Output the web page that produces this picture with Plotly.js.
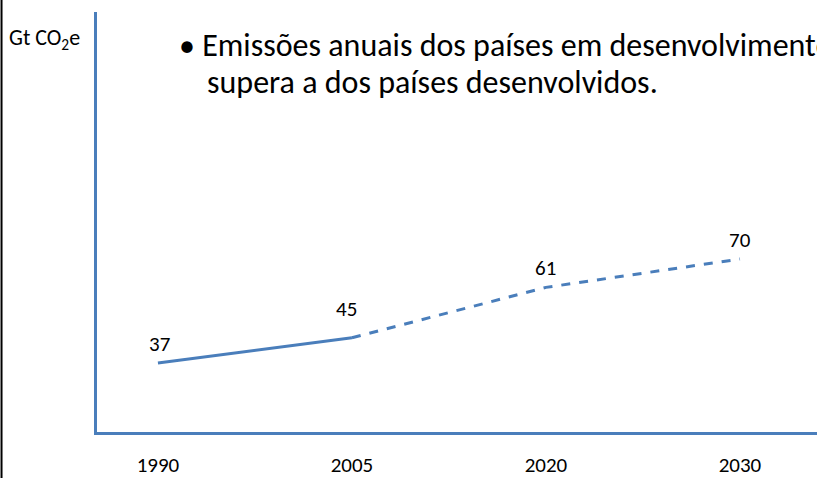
<!DOCTYPE html>
<html><head><meta charset="utf-8">
<script src="https://cdn.plot.ly/plotly-3.0.1.min.js"></script>
<style>html,body{margin:0;padding:0;background:#fff;}#chart{width:817px;height:478px;}</style>
</head><body><div id="chart"></div>
<script>
const years = ['1990','2005','2020','2030'];
const emissions = [37, 45, 61, 70];
const valueLabels = ['37','45','61','70'];
const yUnit = 'Gt CO<sub>2</sub>e';
const bulletLine1 = '• Emissões anuais dos países em desenvolvimento';
const bulletLine2 = 'supera a dos países desenvolvidos.';

const FONT = 'Carlito, Lato, "Liberation Sans", sans-serif';
const BLUE = '#4a7ebb';

const traces = [
  {x: years.slice(0,2), y: emissions.slice(0,2), mode:'lines', line:{color:BLUE, width:3}, hoverinfo:'skip'},
  {x: years.slice(1), y: emissions.slice(1), mode:'lines', line:{color:BLUE, width:3, dash:'dash'}, hoverinfo:'skip'}
];

const labelShift = [[2,4],[-5,14],[0,4],[0,4]];
const annotations = years.map((yr,i)=>({
  x: i, y: emissions[i], xref:'x', yref:'y', text: valueLabels[i], showarrow:false,
  xanchor:'center', yanchor:'bottom', xshift: labelShift[i][0], yshift: labelShift[i][1],
  font:{family:FONT, size:21, color:'#000'}
}));
annotations.push({xref:'paper', yref:'paper', x:-0.125, y:0.935, xanchor:'left', yanchor:'middle', showarrow:false,
  text: yUnit, font:{family:FONT, size:22, color:'#000'}});
annotations.push({xref:'paper', yref:'paper', x:0.111, y:0.921, xanchor:'left', yanchor:'middle', align:'left', showarrow:false,
  text: bulletLine1, font:{family:FONT, size:32, color:'#000'}});
annotations.push({xref:'paper', yref:'paper', x:0.150, y:0.831, xanchor:'left', yanchor:'middle', align:'left', showarrow:false,
  text: bulletLine2, font:{family:FONT, size:32, color:'#000'}});

const layout = {
  width:817, height:478,
  margin:{l:97, r:0, t:12, b:46},
  paper_bgcolor:'#fff', plot_bgcolor:'#fff',
  showlegend:false,
  xaxis:{type:'category', range:[-0.314, 3.397], showgrid:false, zeroline:false,
    showline:true, linecolor:BLUE, linewidth:3, ticks:'', ticklabelstandoff:12,
    tickfont:{family:FONT, size:21, color:'#000'}},
  yaxis:{range:[15.1, 148.4], showgrid:false, zeroline:false, showline:true, linecolor:BLUE, linewidth:3,
    showticklabels:false, ticks:''},
  annotations: annotations,
  shapes:[{type:'line', xref:'paper', yref:'paper', x0:-0.1326, x1:-0.1326, y0:-0.12, y1:1.03, line:{color:'#000', width:2}}]
};
Plotly.newPlot('chart', traces, layout, {staticPlot:true});
</script></body></html>
